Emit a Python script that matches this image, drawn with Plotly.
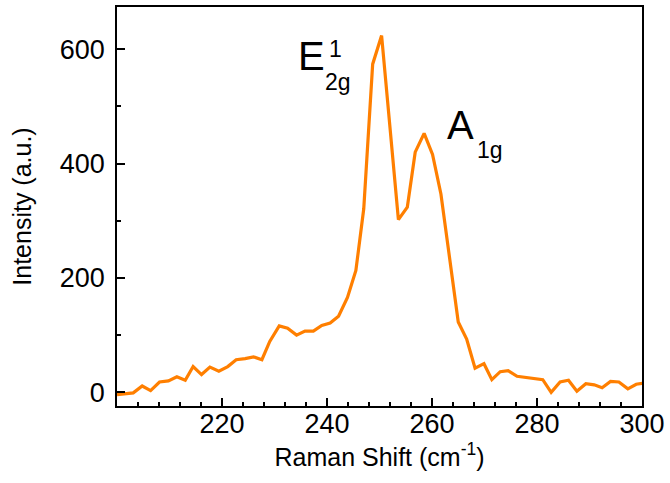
import plotly.graph_objects as go

raman_shift = [200.0, 201.6, 203.1, 204.8, 206.4, 208.1, 209.8, 211.4, 213.0, 214.5,
               216.1, 217.7, 219.4, 221.1, 222.7, 224.4, 226.0, 227.6, 229.1, 230.9,
               232.5, 234.2, 235.8, 237.4, 239.0, 240.6, 242.2, 243.9, 245.5, 247.0,
               248.7, 250.4, 253.6, 255.3, 256.8, 258.5, 260.1, 261.7, 265.0, 266.6,
               268.2, 269.9, 271.4, 273.0, 274.5, 276.2, 277.9, 279.4, 281.1, 282.7,
               284.4, 286.0, 287.6, 289.3, 290.9, 292.4, 294.0, 295.6, 297.3, 298.9,
               300.5]
intensity = [-4, -2, -1, 11, 3, 18, 20, 27, 21, 45,
             31, 44, 37, 45, 57, 59, 62, 57, 89, 116,
             112, 100, 107, 107, 117, 121, 133, 166, 213, 321,
             574, 624, 302, 324, 420, 453, 416, 347, 123, 93,
             42, 50, 22, 36, 38, 28, 26, 23, 22, 0,
             18, 21, 2, 15, 13, 8, 19, 18, 6, 14,
             16]

x_ticks = [220, 240, 260, 280, 300]
y_ticks = [0, 200, 400, 600]

FONT = "Liberation Sans, Arial, sans-serif"

fig = go.Figure()
fig.add_trace(go.Scatter(x=raman_shift, y=intensity, mode="lines",
                         line=dict(color="#FF7F00", width=3.2), showlegend=False))

axis_common = dict(showline=True, linecolor="black", linewidth=1.7, mirror=True,
                   ticks="inside", ticklen=8, tickwidth=1.5, tickcolor="black",
                   showgrid=False, zeroline=False,
                   tickfont=dict(family=FONT, size=27, color="black"))

fig.update_xaxes(range=[200, 300], tickvals=x_ticks, ticklabelstandoff=-7,
                 minor=dict(ticks="inside", ticklen=4, tickwidth=1.5, tickcolor="black",
                            tick0=200, dtick=4, showgrid=False),
                 title=dict(text="Raman Shift (cm<sup>-1</sup>)", standoff=7,
                            font=dict(family=FONT, size=25, color="black")),
                 **axis_common)
fig.update_yaxes(range=[-24, 674], tickvals=y_ticks, ticklabelstandoff=5,
                 minor=dict(ticks="inside", ticklen=4, tickwidth=1.5, tickcolor="black",
                            tick0=0, dtick=100, showgrid=False),
                 title=dict(text="Intensity (a.u.)", standoff=21,
                            font=dict(family=FONT, size=25, color="black")),
                 **axis_common)

ann_font_big = dict(family=FONT, size=40, color="black")
ann_font_small = dict(family=FONT, size=23, color="black")
fig.add_annotation(x=234.0, y=588, text="E", showarrow=False, xanchor="left",
                   yanchor="middle", font=ann_font_big)
fig.add_annotation(x=240.0, y=601, text="1", showarrow=False, xanchor="left",
                   yanchor="middle", font=ann_font_small)
fig.add_annotation(x=239.3, y=543, text="2g", showarrow=False, xanchor="left",
                   yanchor="middle", font=ann_font_small)
fig.add_annotation(x=262.4, y=467, text="A", showarrow=False, xanchor="left",
                   yanchor="middle", font=ann_font_big)
fig.add_annotation(x=268.2, y=423, text="1g", showarrow=False, xanchor="left",
                   yanchor="middle", font=ann_font_small)

fig.update_layout(width=670, height=483, margin=dict(l=117, r=28, t=5, b=77),
                  plot_bgcolor="white", paper_bgcolor="white",
                  font=dict(family=FONT, color="black"))

fig.write_html("out.html", config={"displayModeBar": False},
               post_script="document.body.style.margin='0px';")
